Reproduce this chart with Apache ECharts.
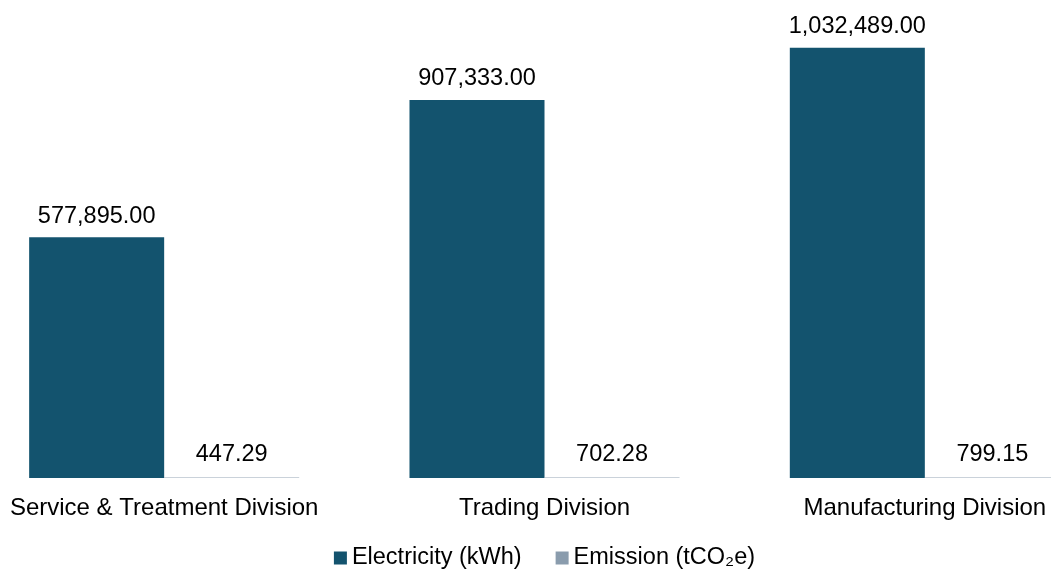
<!DOCTYPE html>
<html>
<head>
<meta charset="utf-8">
<script src="https://cdn.jsdelivr.net/npm/echarts@6/dist/echarts.min.js"></script>
<style>html,body{margin:0;padding:0;background:#fff;overflow:hidden;width:1051px;height:575px;position:relative}#c{position:absolute;left:-26px;top:0;width:1141px;height:575px}</style>
</head>
<body>
<div id="c"></div>
<script>
const categories = ['Service & Treatment Division', 'Trading Division', 'Manufacturing Division'];
const electricity = [577895.00, 907333.00, 1032489.00];
const emission = [447.29, 702.28, 799.15];
const seriesNames = ['Electricity (kWh)', 'Emission (tCO\u2082e)'];

const fmt = v => Number(v).toLocaleString('en-US', {minimumFractionDigits: 2, maximumFractionDigits: 2});
const font = '"Liberation Sans", Arial, sans-serif';
const elecColor = '#13536E';
const emisColor = '#8A9CAD';

const chart = echarts.init(document.getElementById('c'), null, {renderer: 'canvas'});
chart.setOption({
  animation: false,
  grid: {left: 0, right: 0, top: 28, bottom: 97, containLabel: false},
  legend: {
    bottom: 0,
    left: 'center',
    itemWidth: 13, itemHeight: 13, itemGap: 34,
    icon: 'rect',
    textStyle: {fontFamily: font, fontSize: 23.5, color: '#000'},
    data: [
      {name: seriesNames[0], itemStyle: {color: elecColor}},
      {name: seriesNames[1], itemStyle: {color: emisColor}}
    ]
  },
  xAxis: {
    type: 'category',
    data: categories,
    axisLine: {show: false},
    axisTick: {show: false},
    axisLabel: {fontFamily: font, fontSize: 24, color: '#000', margin: 18, interval: 0}
  },
  yAxis: {
    type: 'value', min: 0, max: 1080000,
    show: false,
    splitLine: {show: false}
  },
  series: [
    {
      name: seriesNames[0], type: 'bar', data: electricity,
      barGap: '0%', barCategoryGap: '29%',
      itemStyle: {color: elecColor},
      label: {show: true, position: 'top', distance: 9, formatter: p => fmt(p.value),
              fontFamily: font, fontSize: 23.5, color: '#000'}
    },
    {
      name: seriesNames[1], type: 'bar', data: emission,
      barMinHeight: 1,
      itemStyle: {color: 'rgba(138,156,173,0.45)'},
      label: {show: true, position: 'top', distance: 10, formatter: p => fmt(p.value),
              fontFamily: font, fontSize: 23.5, color: '#000'}
    }
  ]
});
</script>
</body>
</html>
